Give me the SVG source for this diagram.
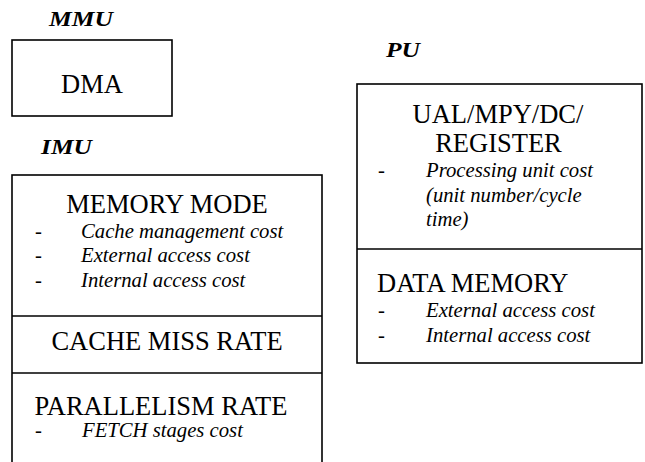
<svg xmlns="http://www.w3.org/2000/svg" width="645" height="462" viewBox="0 0 645 462">
<style>
.box{fill:#fff;stroke:#000;stroke-width:1.6}
.div{stroke:#000;stroke-width:1.6}
text{font-family:'Liberation Serif','Times New Roman',serif;fill:#000}
.lbl{font-weight:bold;font-style:italic;font-size:21px}
.hd{font-size:26.5px}
.it{font-style:italic;font-size:20.7px}
.dash{font-size:20.7px}
.mid{text-anchor:middle}
</style>
<rect width="645" height="462" fill="#fff"/>

<g id="label-mmu"><text class="lbl" x="49" y="26" textLength="64" lengthAdjust="spacingAndGlyphs">MMU</text></g>
<g id="node-dma">
<rect class="box" x="12" y="40" width="160" height="76"/>
<text class="hd mid" x="92" y="93">DMA</text>
</g>

<g id="label-imu"><text class="lbl" x="41" y="154" textLength="51" lengthAdjust="spacingAndGlyphs">IMU</text></g>
<g id="node-imu">
<rect class="box" x="12" y="175" width="310" height="300"/>
<line class="div" x1="12" y1="316" x2="322" y2="316"/>
<line class="div" x1="12" y1="373" x2="322" y2="373"/>
<text class="hd mid" x="167" y="213">MEMORY MODE</text>
<text class="dash" x="35" y="238">-</text><text class="it" x="81" y="238">Cache management cost</text>
<text class="dash" x="35" y="262">-</text><text class="it" x="81" y="262">External access cost</text>
<text class="dash" x="35" y="287">-</text><text class="it" x="81" y="287">Internal access cost</text>
<text class="hd mid" x="167" y="350">CACHE MISS RATE</text>
<text class="hd mid" x="161" y="415">PARALLELISM RATE</text>
<text class="dash" x="35" y="437">-</text><text class="it" x="82" y="437">FETCH stages cost</text>
</g>

<g id="label-pu"><text class="lbl" x="386" y="57" textLength="34" lengthAdjust="spacingAndGlyphs">PU</text></g>
<g id="node-pu">
<rect class="box" x="357" y="84" width="285" height="279"/>
<line class="div" x1="357" y1="249" x2="642" y2="249"/>
<text class="hd mid" x="498" y="123">UAL/MPY/DC/</text>
<text class="hd mid" x="498.5" y="152">REGISTER</text>
<text class="dash" x="378" y="177">-</text><text class="it" x="426" y="177">Processing unit cost</text>
<text class="it" x="426" y="202">(unit number/cycle</text>
<text class="it" x="426" y="226">time)</text>
<text class="hd" x="377" y="292">DATA MEMORY</text>
<text class="dash" x="378" y="317">-</text><text class="it" x="426" y="317">External access cost</text>
<text class="dash" x="378" y="342">-</text><text class="it" x="426" y="342">Internal access cost</text>
</g>
<g id="connectors"></g>
</svg>
